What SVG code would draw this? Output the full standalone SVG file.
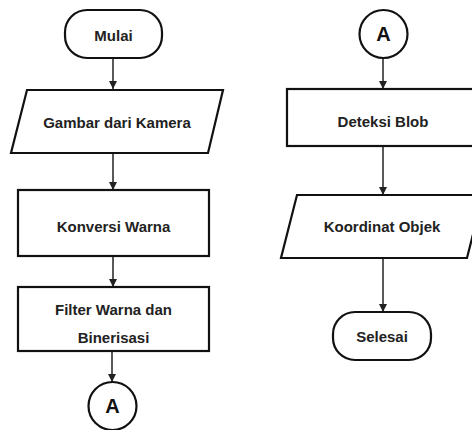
<svg xmlns="http://www.w3.org/2000/svg" width="472" height="430" viewBox="0 0 472 430">
<defs>
<style>
.s{fill:#fff;stroke:#111;stroke-width:2.2}
.t{font-family:"Liberation Sans",Arial,sans-serif;font-weight:bold;font-size:15px;fill:#222;text-anchor:middle}
.c{font-family:"Liberation Sans",Arial,sans-serif;font-weight:bold;font-size:20px;fill:#111;text-anchor:middle}
.e{stroke:#222;stroke-width:1.5;fill:none;marker-end:url(#ah)}
</style>
<marker id="ah" markerWidth="10" markerHeight="10" refX="9" refY="5" orient="auto" markerUnits="userSpaceOnUse">
<path d="M1,1 L9,5 L1,9 Z" fill="#222"/>
</marker>
</defs>
<rect width="472" height="430" fill="#fff"/>
<g id="connectors">
<line class="e" x1="113" y1="58" x2="113" y2="89"/>
<line class="e" x1="113" y1="153" x2="113" y2="190"/>
<line class="e" x1="113" y1="256" x2="113" y2="287"/>
<line class="e" x1="112" y1="351" x2="112" y2="382"/>
<line class="e" x1="383" y1="58" x2="383" y2="89"/>
<line class="e" x1="383" y1="146" x2="383" y2="195"/>
<line class="e" x1="383" y1="258" x2="383" y2="312"/>
</g>
<g id="mulai">
<rect class="s" x="65" y="10" width="97" height="48" rx="22"/>
<text class="t" x="113.5" y="40.5">Mulai</text>
</g>
<g id="gambar">
<polygon class="s" points="27,90 223,90 208,153 11,153"/>
<text class="t" x="117" y="127.5">Gambar dari Kamera</text>
</g>
<g id="konversi">
<rect class="s" x="18" y="190" width="191" height="66"/>
<text class="t" x="113.5" y="232">Konversi Warna</text>
</g>
<g id="filter">
<rect class="s" x="18" y="287" width="191" height="64"/>
<text class="t" x="113.5" y="314.5">Filter Warna dan</text>
<text class="t" x="113.5" y="343">Binerisasi</text>
</g>
<g id="a1">
<circle class="s" cx="112.5" cy="406" r="24"/>
<text class="c" x="112.5" y="413">A</text>
</g>
<g id="a2">
<circle class="s" cx="383.5" cy="34" r="24"/>
<text class="c" x="383.5" y="41">A</text>
</g>
<g id="deteksi">
<rect class="s" x="287" y="89" width="192" height="57"/>
<text class="t" x="383" y="127">Deteksi Blob</text>
</g>
<g id="koordinat">
<polygon class="s" points="297,195 483,195 467,258 281,258"/>
<text class="t" x="382" y="232">Koordinat Objek</text>
</g>
<g id="selesai">
<rect class="s" x="333" y="312" width="98" height="48" rx="22"/>
<text class="t" x="382" y="341.5">Selesai</text>
</g>
</svg>
